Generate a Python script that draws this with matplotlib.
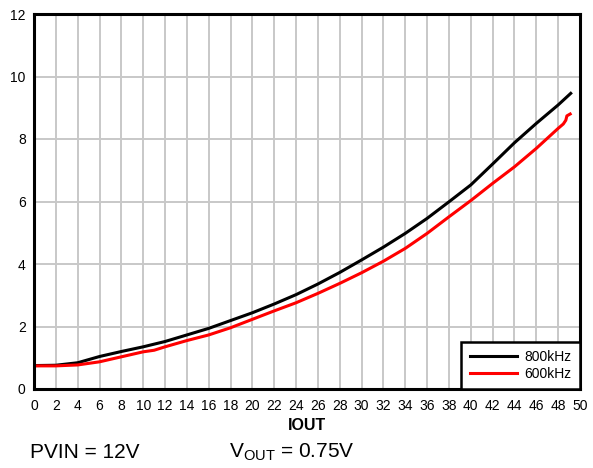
import matplotlib
matplotlib.use("Agg")
import matplotlib.pyplot as plt

plt.rcParams['font.family'] = ['Liberation Sans', 'DejaVu Sans']
plt.rcParams['mathtext.fontset'] = 'custom'
plt.rcParams['mathtext.rm'] = 'Liberation Sans'

# IOUT vs loss, 800kHz (black) and 600kHz (red)
x800 = [0, 2, 4, 6, 8, 10, 12, 14, 16, 18, 20, 22, 24, 26, 28, 30, 32, 34, 36, 38, 40, 42, 44, 46, 48, 49.15]
y800 = [0.75, 0.76, 0.84, 1.04, 1.20, 1.35, 1.52, 1.73, 1.94, 2.19, 2.44, 2.72, 3.02, 3.36, 3.73, 4.13, 4.54, 4.98, 5.46, 5.99, 6.53, 7.20, 7.88, 8.50, 9.09, 9.46]

x600 = [0, 2, 4, 6, 8, 10, 11, 12, 14, 16, 18, 20, 22, 24, 26, 28, 30, 32, 34, 36, 38, 40, 42, 44, 46, 48, 48.47, 48.7, 48.8, 49.1]
y600 = [0.74, 0.74, 0.77, 0.87, 1.03, 1.19, 1.24, 1.35, 1.55, 1.73, 1.96, 2.23, 2.50, 2.76, 3.06, 3.38, 3.72, 4.09, 4.50, 4.98, 5.51, 6.03, 6.58, 7.11, 7.70, 8.34, 8.48, 8.60, 8.74, 8.80]

fig = plt.figure(figsize=(5.93, 4.68), dpi=100)
ax = fig.add_axes([34/593, 1 - 389/468, 546/593, 375/468])

ax.plot(x800, y800, color='black', lw=2.2, label='800kHz')
ax.plot(x600, y600, color='#ff0000', lw=2.2, label='600kHz')

ax.set_xlim(0, 50)
ax.set_ylim(0, 12)
ax.set_xticks(range(0, 51, 2))
ax.set_yticks(range(0, 13, 2))
ax.grid(True, color='#c8c8c8', lw=1.4)
ax.set_axisbelow(True)
ax.tick_params(length=0, labelsize=10, colors='black')
ax.tick_params(axis='x', pad=7)
ax.tick_params(axis='y', pad=6)
for s in ax.spines.values():
    s.set_linewidth(2.2)
    s.set_color('black')

ax.set_xlabel('IOUT', fontsize=11.5, fontweight='bold', labelpad=4)

leg = ax.legend(loc='lower right', borderaxespad=0, fancybox=False, edgecolor='black',
                fontsize=10, handlelength=3.4, handletextpad=0.55, framealpha=1,
                borderpad=0.6, labelspacing=0.2)
leg.get_frame().set_linewidth(1.8)

fig.text(30/593, 1 - 452/468, 'PVIN = 12V', fontsize=15, va='center', ha='left')
fig.text(229/593, 1 - 452/468, r'V$_\mathregular{OUT}$ = 0.75V', fontsize=15, va='center', ha='left')

fig.savefig('out.png', dpi=100)
